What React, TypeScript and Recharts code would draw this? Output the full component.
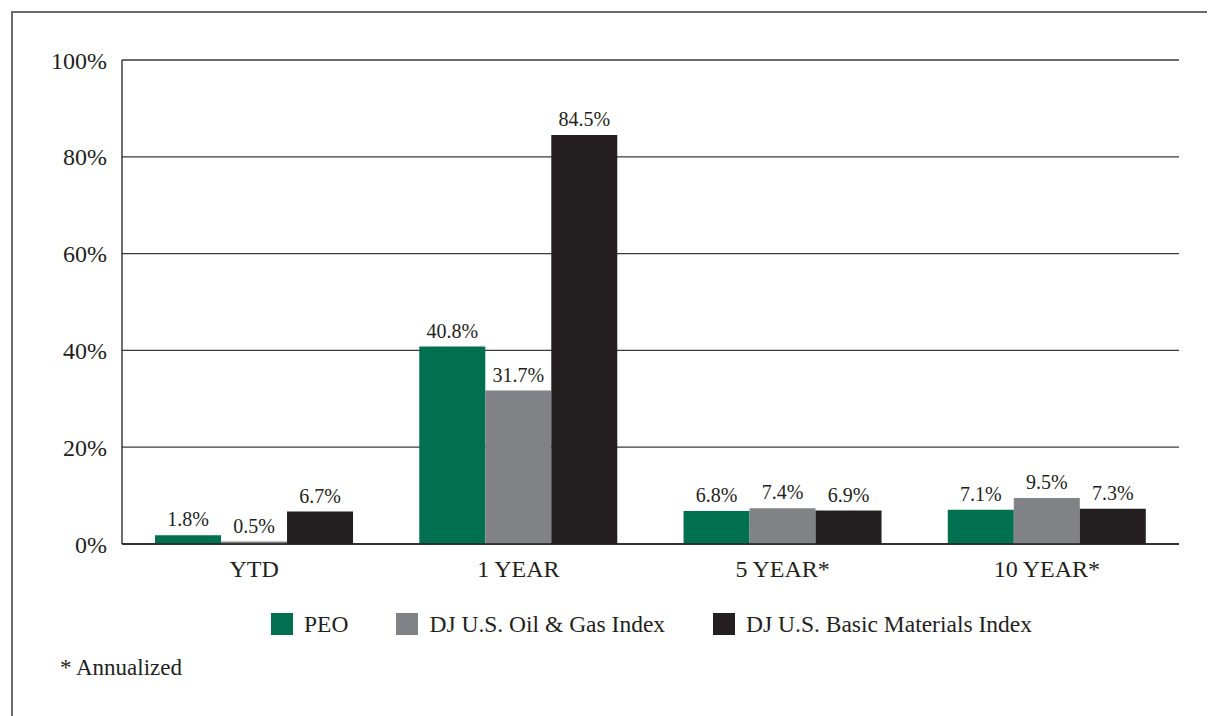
import React from "react";
import { BarChart, Bar, XAxis, YAxis, CartesianGrid, LabelList } from "recharts";

const categories = ["YTD", "1 YEAR", "5 YEAR*", "10 YEAR*"];
const peo = [1.8, 40.8, 6.8, 7.1];
const oilGas = [0.5, 31.7, 7.4, 9.5];
const basicMaterials = [6.7, 84.5, 6.9, 7.3];
const yTicks = [0, 20, 40, 60, 80, 100];

const seriesNames = ["PEO", "DJ U.S. Oil & Gas Index", "DJ U.S. Basic Materials Index"];
const seriesKeys = ["peo", "oilGas", "basicMaterials"];
const seriesColors = ["#00704f", "#818285", "#231f20"];
const footnote = "* Annualized";

const data = categories.map((c, i) => ({
  category: c,
  peo: peo[i],
  oilGas: oilGas[i],
  basicMaterials: basicMaterials[i],
}));

const FONT = '"Liberation Serif", "Times New Roman", serif';
const TEXT = "#231f20";

const fmt = (v: any) => `${Number(v).toFixed(1)}%`;

export default function App() {
  return (
    <div style={{ width: 1207, height: 708, position: "relative", fontFamily: FONT }}>
      <div
        style={{
          position: "absolute",
          left: 3,
          top: 3,
          width: 1204,
          height: 705,
          borderTop: "2px solid #6a6a6a",
          borderLeft: "2px solid #6a6a6a",
        }}
      >
        <div style={{ position: "absolute", left: 0, top: 0 }}>
          <BarChart
            width={1190}
            height={571}
            data={data}
            margin={{ top: 47, right: 24, bottom: 0, left: 0 }}
            barCategoryGap="12.5%"
            barGap={0}
          >
            <CartesianGrid vertical={false} stroke="#3a3a3a" strokeWidth={1.3} />
            <XAxis
              dataKey="category"
              height={40}
              tickLine={false}
              axisLine={{ stroke: "#231f20", strokeWidth: 1.3 }}
              tickMargin={10}
              tick={{ fill: TEXT, fontSize: 24, fontFamily: FONT }}
            />
            <YAxis
              width={109}
              domain={[0, 100]}
              ticks={yTicks}
              interval={0}
              tickLine={false}
              axisLine={{ stroke: "#231f20", strokeWidth: 1.3 }}
              tickMargin={9}
              tickFormatter={(v: number) => `${v}%`}
              tick={{ fill: TEXT, fontSize: 24, fontFamily: FONT }}
            />
            {seriesKeys.map((k, i) => (
              <Bar key={k} dataKey={k} name={seriesNames[i]} fill={seriesColors[i]} isAnimationActive={false}>
                <LabelList
                  dataKey={k}
                  position="top"
                  offset={9}
                  formatter={fmt}
                  style={{ fill: TEXT, fontSize: 20, fontFamily: FONT }}
                />
              </Bar>
            ))}
          </BarChart>
        </div>
        <div
          style={{
            position: "absolute",
            left: 109,
            width: 1059,
            top: 597,
            display: "flex",
            justifyContent: "center",
            alignItems: "center",
            color: TEXT,
            fontSize: 23.5,
          }}
        >
          {seriesNames.map((n, i) => (
            <div key={n} style={{ display: "flex", alignItems: "center", marginLeft: i === 0 ? 0 : 48 }}>
              <div style={{ width: 22, height: 22, background: seriesColors[i], marginRight: 11 }} />
              <span style={{ lineHeight: "28px" }}>{n}</span>
            </div>
          ))}
        </div>
        <div style={{ position: "absolute", left: 47, top: 641, color: TEXT, fontSize: 23, lineHeight: "28px" }}>
          {footnote}
        </div>
      </div>
    </div>
  );
}
